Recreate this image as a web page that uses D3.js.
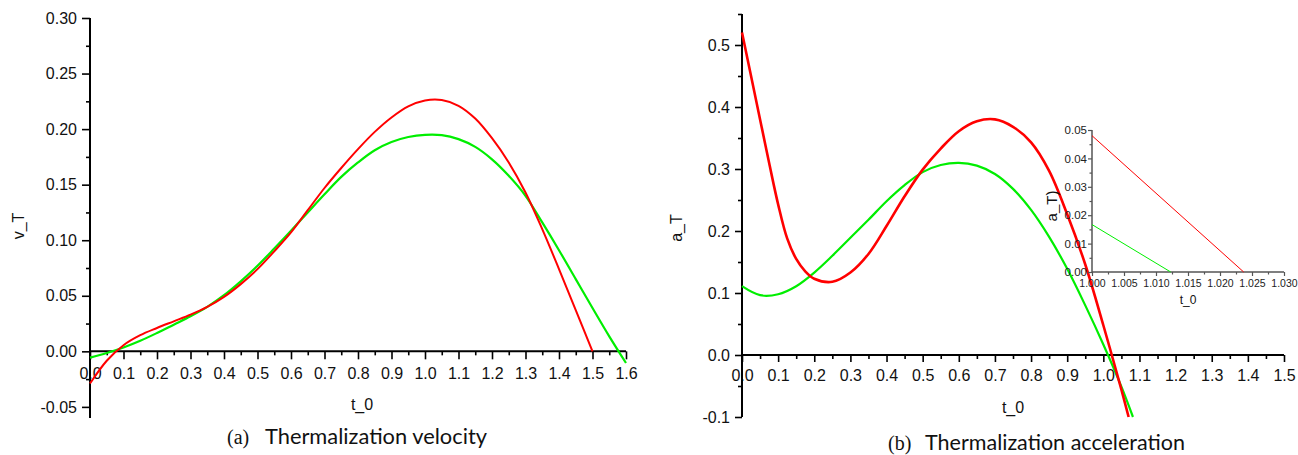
<!DOCTYPE html>
<html>
<head>
<meta charset="utf-8">
<script src="https://cdn.jsdelivr.net/npm/d3@7"></script>
<style>
  body { margin: 0; background: #fff; }
  svg { display: block; }
</style>
</head>
<body>
<svg width="1298" height="455"></svg>
<script>
// (a) thermalization velocity v_T(t_0)
const velT = [0, 0.05, 0.1, 0.15, 0.2, 0.25, 0.3, 0.35, 0.4, 0.45, 0.5, 0.55, 0.6, 0.65, 0.7, 0.75,
  0.8, 0.85, 0.9, 0.95, 1.0, 1.05, 1.1, 1.15, 1.2, 1.25, 1.3, 1.35, 1.4, 1.45, 1.5, 1.55, 1.6];
const velRed = [-0.029, -0.0085, 0.0055, 0.0145, 0.021, 0.027, 0.033, 0.04, 0.049, 0.0605, 0.074, 0.09,
  0.107, 0.127, 0.147, 0.165, 0.182, 0.1975, 0.2105, 0.2205, 0.2258, 0.2262, 0.221, 0.2095, 0.1918,
  0.17, 0.143, 0.11, 0.074, 0.037, 0.0];
const velGreen = [-0.0057, -0.0015, 0.0035, 0.0095, 0.0165, 0.024, 0.0315, 0.04, 0.0505, 0.063, 0.077,
  0.0925, 0.1085, 0.125, 0.1414, 0.157, 0.17, 0.181, 0.1884, 0.1929, 0.1949, 0.1946, 0.191, 0.184,
  0.1728, 0.158, 0.14, 0.116, 0.091, 0.065, 0.039, 0.0135, -0.0105];
const velXTicks = [0, 0.1, 0.2, 0.3, 0.4, 0.5, 0.6, 0.7, 0.8, 0.9, 1.0, 1.1, 1.2, 1.3, 1.4, 1.5, 1.6];
const velYTicks = [-0.05, 0, 0.05, 0.1, 0.15, 0.2, 0.25, 0.3];

// (b) thermalization acceleration a_T(t_0)
const accRedT = [0, 0.05, 0.075, 0.1, 0.125, 0.15, 0.175, 0.2, 0.25, 0.3, 0.35, 0.4, 0.45, 0.5, 0.55,
  0.6, 0.65, 0.7, 0.75, 0.8, 0.85, 0.9, 0.95, 1.0, 1.05, 1.07];
const accRed = [0.52, 0.38, 0.31, 0.243, 0.188, 0.155, 0.135, 0.123, 0.118, 0.133, 0.163, 0.208, 0.256,
  0.299, 0.333, 0.361, 0.377, 0.38, 0.368, 0.343, 0.297, 0.227, 0.146, 0.048, -0.056, -0.1];
const accGreenT = [0, 0.05, 0.1, 0.15, 0.2, 0.25, 0.3, 0.35, 0.4, 0.45, 0.5, 0.55, 0.6, 0.65, 0.7, 0.75,
  0.8, 0.85, 0.9, 0.95, 1.0, 1.05, 1.082];
const accGreen = [0.111, 0.0965, 0.098, 0.111, 0.133, 0.16, 0.189, 0.218, 0.248, 0.274, 0.295, 0.3065,
  0.31, 0.3055, 0.292, 0.268, 0.234, 0.1905, 0.139, 0.08, 0.017, -0.051, -0.1];
const accXTicks = [0, 0.1, 0.2, 0.3, 0.4, 0.5, 0.6, 0.7, 0.8, 0.9, 1.0, 1.1, 1.2, 1.3, 1.4, 1.5];
const accYTicks = [-0.1, 0, 0.1, 0.2, 0.3, 0.4, 0.5];

// inset: zero crossings near t_0 = 1
const insetRedT = [1.0, 1.0237];
const insetRed = [0.048, 0];
const insetGreenT = [1.0, 1.0123];
const insetGreen = [0.0167, 0];
const insetXTicks = [1.0, 1.005, 1.01, 1.015, 1.02, 1.025, 1.03];
const insetYTicks = [0, 0.01, 0.02, 0.03, 0.04, 0.05];

const RED = "#ff0000";
const GREEN = "#00ee00";
const TICK_FONT = "'Liberation Sans', Arial, sans-serif";

const fmt = d3.formatLocale({ decimal: ".", thousands: ",", grouping: [3], currency: ["", ""], minus: "-" });

const svg = d3.select("svg");

const midpoints = (ticks) => ticks.slice(1).map((d, i) => (d + ticks[i]) / 2);

// draws y axis at x0 and x axis at y(0), major + minor ticks
const drawAxes = (g, x, y, o) => {
  const x0 = x.range()[0];
  const y0 = y(0);

  // minor ticks
  g.append("g")
    .attr("transform", `translate(${x0},0)`)
    .call(d3.axisLeft(y).tickValues(o.yMinor).tickSize(o.minor).tickFormat(""))
    .call((a) => a.select(".domain").remove());
  g.append("g")
    .attr("transform", `translate(0,${y0})`)
    .call(d3.axisBottom(x).tickValues(o.xMinor).tickSize(o.minor).tickFormat(""))
    .call((a) => a.select(".domain").remove());

  // major ticks and labels
  g.append("g")
    .attr("class", "y-major")
    .attr("transform", `translate(${x0},0)`)
    .call(d3.axisLeft(y).tickValues(o.yTicks).tickSize(o.major).tickPadding(o.yPad).tickFormat(fmt.format(o.yFmt)))
    .call((a) => a.select(".domain").remove());
  g.append("g")
    .attr("class", "x-major")
    .attr("transform", `translate(0,${y0})`)
    .call(d3.axisBottom(x).tickValues(o.xTicks).tickSize(o.major).tickPadding(o.xPad).tickFormat(fmt.format(o.xFmt)))
    .call((a) => a.select(".domain").remove());

  g.selectAll(".tick line").attr("stroke", o.color).attr("stroke-width", o.tickWidth);
  g.selectAll(".tick text")
    .attr("fill", o.textColor)
    .attr("font-family", TICK_FONT)
    .attr("font-size", o.fontSize);
  if (o.xFontSize) g.selectAll(".x-major .tick text").attr("font-size", o.xFontSize);

  // axis lines
  g.append("line")
    .attr("x1", x0).attr("x2", x0)
    .attr("y1", y.range()[0]).attr("y2", y.range()[1])
    .attr("stroke", o.color).attr("stroke-width", o.lineWidth);
  g.append("line")
    .attr("x1", x0).attr("x2", x.range()[1])
    .attr("y1", y0).attr("y2", y0)
    .attr("stroke", o.color).attr("stroke-width", o.lineWidth);
};

const drawCurve = (g, x, y, ts, vs, color, width, curve) => {
  const line = d3.line()
    .x((d) => x(d[0]))
    .y((d) => y(d[1]))
    .curve(curve);
  g.append("path")
    .datum(d3.zip(ts, vs))
    .attr("fill", "none")
    .attr("stroke", color)
    .attr("stroke-width", width)
    .attr("stroke-linejoin", "round")
    .attr("d", line);
};

const axisLabel = (g, text, tx, ty, rotate, size) => {
  g.append("text")
    .attr("transform", `translate(${tx},${ty})` + (rotate ? " rotate(-90)" : ""))
    .attr("text-anchor", "middle")
    .attr("font-family", TICK_FONT)
    .attr("font-size", size)
    .attr("fill", "#111")
    .text(text);
};

const caption = (tag, text, tagX, textX, textW, base) => {
  svg.append("text")
    .attr("x", tagX).attr("y", base)
    .attr("font-family", "'Liberation Serif', 'DejaVu Serif', serif")
    .attr("font-size", 20)
    .attr("fill", "#111")
    .text(tag);
  svg.append("text")
    .attr("x", textX).attr("y", base)
    .attr("font-family", "Lato, 'Open Sans', sans-serif")
    .attr("font-size", 21.5)
    .attr("fill", "#111")
    .attr("textLength", textW)
    .attr("lengthAdjust", "spacingAndGlyphs")
    .text(text);
};

const smooth = d3.curveCatmullRom.alpha(0.5);

// ---- panel (a)
{
  const x = d3.scaleLinear([0, 1.6], [90, 626]);
  const y = d3.scaleLinear([-0.06, 0.3], [418, 18]);
  const g = svg.append("g").attr("class", "panel-a");

  drawAxes(g, x, y, {
    xTicks: velXTicks, yTicks: velYTicks,
    xMinor: midpoints(velXTicks), yMinor: midpoints(velYTicks),
    major: 8, minor: 4, xPad: 8, yPad: 5,
    xFmt: ".1f", yFmt: ".2f",
    color: "#000", textColor: "#111", fontSize: 16,
    lineWidth: 2, tickWidth: 1.6,
  });

  drawCurve(g, x, y, velT, velGreen, GREEN, 2.2, smooth);
  drawCurve(g, x, y, velT.slice(0, velRed.length), velRed, RED, 2, smooth);

  axisLabel(g, "v_T", 24, 226, true, 16);
  axisLabel(g, "t_0", 362, 410, false, 16);
}

// ---- panel (b)
{
  const x = d3.scaleLinear([0, 1.5], [742, 1284]);
  const y = d3.scaleLinear([-0.1, 0.55], [417, 14]);
  const g = svg.append("g").attr("class", "panel-b");

  drawAxes(g, x, y, {
    xTicks: accXTicks, yTicks: accYTicks,
    xMinor: midpoints(accXTicks), yMinor: midpoints(accYTicks).concat([0.55]),
    major: 7, minor: 4, xPad: 8, yPad: 5,
    xFmt: ".1f", yFmt: ".1f",
    color: "#000", textColor: "#111", fontSize: 16,
    lineWidth: 2, tickWidth: 1.6,
  });

  drawCurve(g, x, y, accGreenT, accGreen, GREEN, 2.2, smooth);
  drawCurve(g, x, y, accRedT, accRed, RED, 2.6, smooth);

  axisLabel(g, "a_T", 682, 228, true, 16);
  axisLabel(g, "t_0", 1013, 413, false, 16);

  // inset
  const ix = d3.scaleLinear([1.0, 1.03], [1092, 1284]);
  const iy = d3.scaleLinear([0, 0.05], [272, 130]);
  const ig = g.append("g").attr("class", "inset");

  drawAxes(ig, ix, iy, {
    xTicks: insetXTicks, yTicks: insetYTicks,
    xMinor: midpoints(insetXTicks), yMinor: midpoints(insetYTicks),
    major: 4, minor: 2.5, xPad: 4, yPad: 1,
    xFmt: ".3f", yFmt: ".2f",
    color: "#555", textColor: "#222", fontSize: 11.5, xFontSize: 10.5,
    lineWidth: 1.5, tickWidth: 1.2,
  });

  drawCurve(ig, ix, iy, insetRedT, insetRed, RED, 1, d3.curveLinear);
  drawCurve(ig, ix, iy, insetGreenT, insetGreen, GREEN, 1, d3.curveLinear);

  axisLabel(ig, "a_T)", 1057, 206, true, 15);
  axisLabel(ig, "t_0", 1188, 304, false, 12);
}

caption("(a)", "Thermalization  velocity", 227, 265, 222, 444);
caption("(b)", "Thermalization acceleration", 888, 925, 260, 450);
</script>
</body>
</html>
